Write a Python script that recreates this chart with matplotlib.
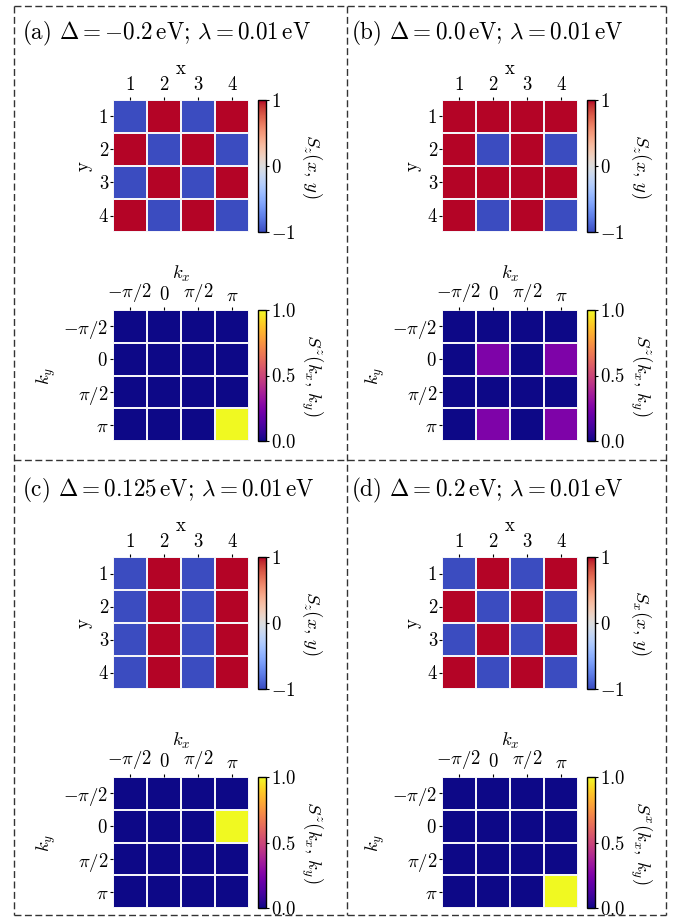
import numpy as np
import matplotlib
matplotlib.use("Agg")
import matplotlib.pyplot as plt
from matplotlib.lines import Line2D

plt.rcParams["font.family"] = "serif"
plt.rcParams["font.serif"] = ["cmr10"]
plt.rcParams["mathtext.fontset"] = "cm"
plt.rcParams["axes.unicode_minus"] = False
plt.rcParams["axes.formatter.use_mathtext"] = True

# ---- data ----
site_labels = ["1", "2", "3", "4"]
k_labels = [r"$-\pi/2$", r"$0$", r"$\pi/2$", r"$\pi$"]

titles = [
    r"(a) $\Delta = -0.2\,\mathrm{eV}$; $\lambda = 0.01\,\mathrm{eV}$",
    r"(b) $\Delta = 0.0\,\mathrm{eV}$; $\lambda = 0.01\,\mathrm{eV}$",
    r"(c) $\Delta = 0.125\,\mathrm{eV}$; $\lambda = 0.01\,\mathrm{eV}$",
    r"(d) $\Delta = 0.2\,\mathrm{eV}$; $\lambda = 0.01\,\mathrm{eV}$",
]
real_labels = [r"$S_z(x,\,y)$", r"$S_z(x,\,y)$", r"$S_z(x,\,y)$", r"$S_x(x,\,y)$"]
k_cb_labels = [r"$S^z(k_x,\,k_y)$", r"$S^z(k_x,\,k_y)$", r"$S^z(k_x,\,k_y)$",
               r"$S^x(k_x,\,k_y)$"]

spin_a = [[-1, 1, -1, 1],
          [1, -1, 1, -1],
          [-1, 1, -1, 1],
          [1, -1, 1, -1]]
spin_b = [[1, 1, 1, 1],
          [1, -1, 1, -1],
          [1, 1, 1, 1],
          [1, -1, 1, -1]]
spin_c = [[-1, 1, -1, 1],
          [-1, 1, -1, 1],
          [-1, 1, -1, 1],
          [-1, 1, -1, 1]]
spin_d = [[-1, 1, -1, 1],
          [1, -1, 1, -1],
          [-1, 1, -1, 1],
          [1, -1, 1, -1]]

sk_a = [[0, 0, 0, 0],
        [0, 0, 0, 0],
        [0, 0, 0, 0],
        [0, 0, 0, 1]]
sk_b = [[0, 0, 0, 0],
        [0, 0.25, 0, 0.25],
        [0, 0, 0, 0],
        [0, 0.25, 0, 0.25]]
sk_c = [[0, 0, 0, 0],
        [0, 0, 0, 1],
        [0, 0, 0, 0],
        [0, 0, 0, 0]]
sk_d = [[0, 0, 0, 0],
        [0, 0, 0, 0],
        [0, 0, 0, 0],
        [0, 0, 0, 1]]

spins = [spin_a, spin_b, spin_c, spin_d]
sks = [sk_a, sk_b, sk_c, sk_d]

# ---- layout (pixels) ----
W, H = 683, 919
fig = plt.figure(figsize=(W / 100, H / 100), dpi=100)


def px(x0, y0, x1, y1):
    return [x0 / W, 1 - y1 / H, (x1 - x0) / W, (y1 - y0) / H]


def frame_line(xs, ys):
    fig.add_artist(Line2D([x / W for x in xs], [1 - y / H for y in ys],
                          transform=fig.transFigure, color="#333333",
                          lw=1.0, dashes=(5, 2.5)))


left_x, mid_x, right_x = 14, 347, 666
top_y, mid_y, bot_y = 6, 460, 915
frame_line([left_x, right_x], [top_y, top_y])
frame_line([left_x, right_x], [mid_y, mid_y])
frame_line([left_x, right_x], [bot_y, bot_y])
frame_line([left_x, left_x], [top_y, bot_y])
frame_line([mid_x, mid_x], [top_y, bot_y])
frame_line([right_x, right_x], [top_y, bot_y])

FS = 13.5


def heat(rect, cb_rect, data, cmap, vmin, vmax, ticklabels, xlabel, ylabel,
         cb_ticks, cb_ticklabels, cb_label):
    ax = fig.add_axes(px(*rect))
    arr = np.array(data, dtype=float)
    mesh = ax.pcolormesh(np.arange(5), np.arange(5), arr, cmap=cmap,
                         vmin=vmin, vmax=vmax, edgecolors="#f4f4f8",
                         linewidth=1.2)
    ax.set_xlim(0, 4)
    ax.set_ylim(4, 0)
    for s in ax.spines.values():
        s.set_visible(False)
    ax.xaxis.tick_top()
    ax.xaxis.set_label_position("top")
    ax.set_xticks(np.arange(4) + 0.5)
    ax.set_yticks(np.arange(4) + 0.5)
    ax.set_xticklabels(ticklabels, fontsize=FS)
    ax.set_yticklabels(ticklabels, fontsize=FS)
    ax.tick_params(axis="x", length=2, width=0.8, pad=2)
    ax.tick_params(axis="y", length=2, width=0.8, pad=1.5)
    ax.set_xlabel(xlabel, fontsize=FS, labelpad=2)
    ax.set_ylabel(ylabel, fontsize=FS, rotation=90, labelpad=4)
    cax = fig.add_axes(px(*cb_rect))
    cb = fig.colorbar(mesh, cax=cax)
    cb.set_ticks(cb_ticks)
    cb.set_ticklabels(cb_ticklabels)
    cb.ax.tick_params(labelsize=FS, length=2, width=0.8, pad=1.5)
    cb.outline.set_linewidth(1.0)
    cb.set_label(cb_label, fontsize=FS, rotation=270, labelpad=21)
    return ax


panel_origin = [(0, 0), (329, 0), (0, 457), (329, 457)]
title_pos = [(22, 33), (351, 33), (22, 490), (351, 490)]

for i in range(4):
    ox, oy = panel_origin[i]
    tx, ty = title_pos[i]
    fig.text(tx / W, 1 - ty / H, titles[i], fontsize=16.7, va="center",
             ha="left")
    heat((113 + ox, 100 + oy, 249 + ox, 232 + oy),
         (258 + ox, 100 + oy, 266 + ox, 232 + oy),
         spins[i], "coolwarm", -1, 1, site_labels, "x", "y",
         [-1, 0, 1], [r"$-1$", r"$0$", r"$1$"], real_labels[i])
    k_oy = oy + (0 if i < 2 else 10)
    heat((113 + ox, 310 + k_oy, 249 + ox, 441 + k_oy),
         (258 + ox, 310 + k_oy, 266 + ox, 441 + k_oy),
         sks[i], "plasma", 0, 1, k_labels, r"$k_x$", r"$k_y$",
         [0, 0.5, 1], [r"$0.0$", r"$0.5$", r"$1.0$"], k_cb_labels[i])

fig.savefig("out.png", dpi=100)
